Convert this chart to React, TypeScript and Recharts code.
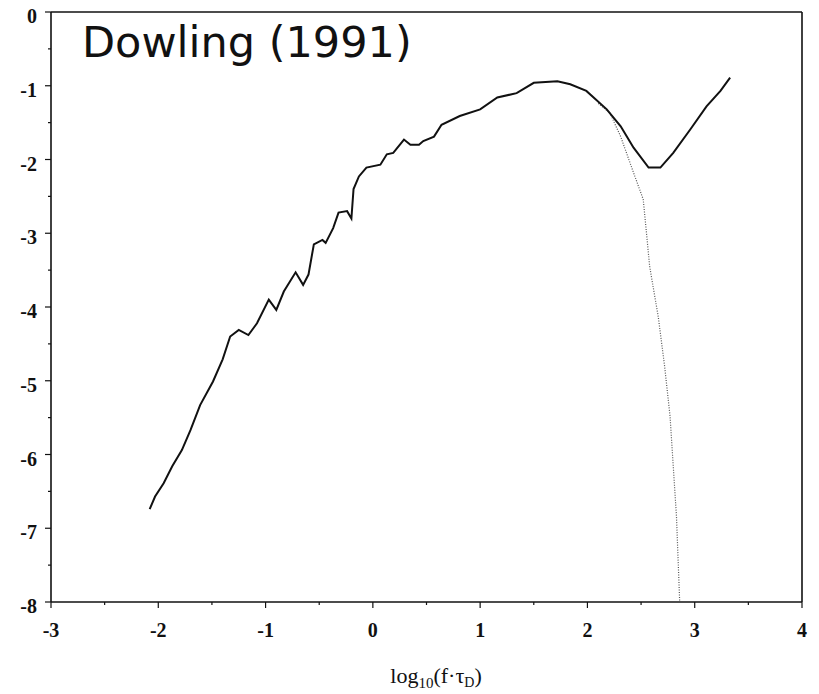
import { Line, LineChart, ReferenceLine, XAxis, YAxis } from "recharts";

// tick positions (major at integers, minor at halves)
const xTicks = [-3, -2.5, -2, -1.5, -1, -0.5, 0, 0.5, 1, 1.5, 2, 2.5, 3, 3.5, 4];
const yTicks = [0, -0.5, -1, -1.5, -2, -2.5, -3, -3.5, -4, -4.5, -5, -5.5, -6, -6.5, -7, -7.5, -8];

// measured spectrum (solid)
const spectrumX = [
  -2.08, -2.03, -1.95, -1.87, -1.78, -1.7, -1.61, -1.49, -1.4, -1.33, -1.25, -1.16, -1.08, -0.97,
  -0.9, -0.83, -0.72, -0.65, -0.6, -0.55, -0.47, -0.44, -0.37, -0.32, -0.24, -0.2, -0.18, -0.13,
  -0.06, 0.07, 0.13, 0.19, 0.29, 0.35, 0.43, 0.47, 0.57, 0.64, 0.81, 1.0, 1.16, 1.34, 1.5, 1.72,
  1.84, 1.99, 2.18, 2.31, 2.43, 2.57, 2.68, 2.8, 2.96, 3.11, 3.24, 3.33,
];
const spectrumY = [
  -6.74, -6.57, -6.39, -6.16, -5.94, -5.67, -5.33, -5.01, -4.71, -4.4, -4.31, -4.38, -4.22, -3.9,
  -4.04, -3.79, -3.53, -3.7, -3.56, -3.15, -3.09, -3.13, -2.93, -2.72, -2.7, -2.8, -2.4, -2.23,
  -2.11, -2.07, -1.93, -1.91, -1.73, -1.8, -1.8, -1.75, -1.69, -1.53, -1.41, -1.32, -1.16, -1.1,
  -0.96, -0.94, -0.98, -1.07, -1.32, -1.55, -1.84, -2.11, -2.11, -1.91, -1.59, -1.28, -1.07, -0.89,
];

// cut-off branch (dotted)
const cutoffX = [2.1, 2.21, 2.31, 2.43, 2.52, 2.55, 2.58, 2.66, 2.72, 2.77, 2.8, 2.83, 2.86];
const cutoffY = [-1.24, -1.37, -1.69, -2.18, -2.54, -2.99, -3.45, -4.13, -4.81, -5.48, -6.16, -6.84, -8];

const spectrum = spectrumX.map((x, i) => ({ x, y: spectrumY[i] }));
const cutoff = cutoffX.map((x, i) => ({ x, y: cutoffY[i] }));

const ink = "#111";
const tickFont = {
  fontFamily: "'Liberation Serif', serif",
  fontWeight: 700,
  fontSize: 20,
  fill: ink,
};

const XTick = (props: any) => {
  const { x, y, payload } = props;
  const major = Number.isInteger(payload.value);
  return (
    <g>
      <line x1={x} x2={x} y1={y} y2={y + (major ? 6 : 3)} stroke={ink} strokeWidth={1.2} />
      {major && (
        <text x={x} y={y + 35} textAnchor="middle" {...tickFont}>
          {payload.value}
        </text>
      )}
    </g>
  );
};

const YTick = (props: any) => {
  const { x, y, payload } = props;
  const major = Number.isInteger(payload.value);
  return (
    <g>
      <line x1={x} x2={x - (major ? 6 : 3)} y1={y} y2={y} stroke={ink} strokeWidth={1.2} />
      {major && (
        <text x={x - 14} y={y + 11} textAnchor="end" {...tickFont}>
          {payload.value}
        </text>
      )}
    </g>
  );
};

const App = () => {
  return (
    <div style={{ position: "relative", width: 811, height: 694, marginTop: -8 }}>
      <LineChart width={811} height={694} margin={{ top: 12, right: 17, left: 0, bottom: 0 }}>
        <XAxis
          type="number"
          dataKey="x"
          domain={[-3, 4]}
          ticks={xTicks}
          interval={0}
          tickSize={0}
          tickMargin={0}
          tickLine={false}
          tick={<XTick />}
          height={92}
          axisLine={{ stroke: ink, strokeWidth: 1.6 }}
          allowDuplicatedCategory={false}
        />
        <YAxis
          type="number"
          dataKey="y"
          domain={[-8, 0]}
          ticks={yTicks}
          interval={0}
          tickSize={0}
          tickMargin={0}
          tickLine={false}
          tick={<YTick />}
          width={43}
          axisLine={{ stroke: ink, strokeWidth: 1.6 }}
        />
        <ReferenceLine y={0} stroke={ink} strokeWidth={1.6} />
        <ReferenceLine x={4} stroke={ink} strokeWidth={1.6} />
        <Line
          data={cutoff}
          dataKey="y"
          type="linear"
          stroke="#555"
          strokeWidth={1.2}
          strokeDasharray="1 1.5"
          dot={false}
          isAnimationActive={false}
        />
        <Line
          data={spectrum}
          dataKey="y"
          type="linear"
          stroke={ink}
          strokeWidth={2}
          dot={false}
          isAnimationActive={false}
        />
      </LineChart>
      <svg
        width={811}
        height={694}
        style={{ position: "absolute", left: 0, top: 0, pointerEvents: "none" }}
      >
        <text x={74} y={57} fontFamily="'DejaVu Sans', sans-serif" fontSize={43} fill={ink}>
          Dowling (1991)
        </text>
        <text
          x={428}
          y={683}
          textAnchor="middle"
          fontFamily="'Liberation Serif', serif"
          fontSize={22}
          fill={ink}
        >
          log
          <tspan fontSize={15} dy={5}>10</tspan>
          <tspan dy={-5}>(f·τ</tspan>
          <tspan fontSize={14} dy={4}>D</tspan>
          <tspan dy={-4}>)</tspan>
        </text>
      </svg>
    </div>
  );
};

export default App;
